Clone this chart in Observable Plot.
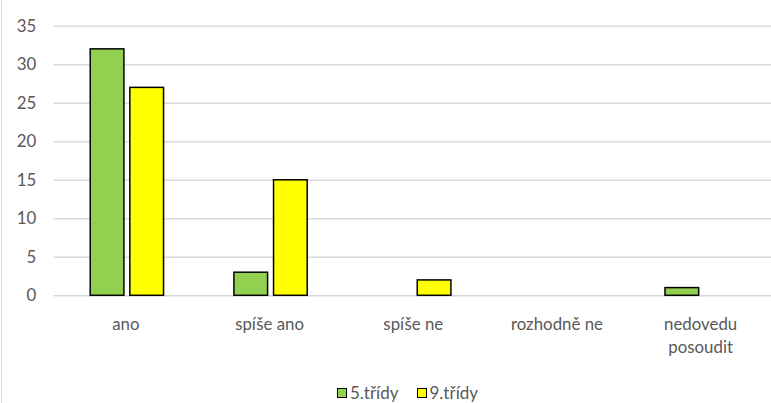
<!DOCTYPE html>
<html>
<head>
<meta charset="utf-8">
<script src="https://cdn.jsdelivr.net/npm/d3@7"></script>
<script src="https://cdn.jsdelivr.net/npm/@observablehq/plot@0.6"></script>
<style>
  html, body { margin: 0; padding: 0; background: #fff; }
  #wrap { width: 771px; height: 403px; position: relative; box-sizing: border-box; border-left: 1px solid #d9d9d9; margin-left: 1px; overflow: hidden; }
  #chart { position: absolute; left: 0; top: 0; }
  #legend { position: absolute; left: 0; width: 771px; top: 382px; display: flex; justify-content: center; gap: 18px; font: 17px Lato, sans-serif; color: #595959; padding-left: 40px; box-sizing: border-box; }
  .item { display: flex; align-items: center; gap: 3px; }
  .sw { width: 8px; height: 8px; border: 1.5px solid #000; display: inline-block; }
</style>
</head>
<body>
<div id="wrap"><div id="chart"></div><div id="legend"></div></div>
<script>
const categories = ["ano", "spíše ano", "spíše ne", "rozhodně ne", "nedovedu posoudit"];
const seriesNames = ["5.třídy", "9.třídy"];
const values5 = [32, 3, 0, 0, 1];
const values9 = [27, 15, 2, 0, 0];
const colors = ["#92d050", "#ffff00"];
const yTicks = [0, 5, 10, 15, 20, 25, 30, 35];

const rows5 = categories.map((c, i) => ({cat: c, value: values5[i]})).filter(d => d.value > 0);
const rows9 = categories.map((c, i) => ({cat: c, value: values9[i]})).filter(d => d.value > 0);

const labelMap = {"nedovedu posoudit": "nedovedu\nposoudit"};

const chart = Plot.plot({
  width: 777,
  height: 382,
  marginLeft: 52,
  marginRight: 0,
  marginTop: 26,
  marginBottom: 84,
  style: {fontFamily: "Lato, sans-serif", fontSize: "17px", color: "#595959", background: "transparent", overflow: "visible"},
  x: {domain: categories, padding: 0, label: null},
  y: {domain: [0, 35], label: null},
  marks: [
    Plot.gridY(yTicks, {stroke: "#d9d9d9", strokeOpacity: 1, strokeWidth: 1.5}),
    Plot.axisY(yTicks, {tickSize: 0, tickPadding: 18, label: null, fill: "#595959"}),
    Plot.axisX({tickSize: 0, tickPadding: 18, label: null, lineHeight: 1.35, fill: "#595959",
                tickFormat: d => labelMap[d] || d}),
    Plot.barY(rows5, {x: "cat", y: "value", fill: colors[0], stroke: "#000", strokeWidth: 1.5, insetLeft: 37, insetRight: 74}),
    Plot.barY(rows9, {x: "cat", y: "value", fill: colors[1], stroke: "#000", strokeWidth: 1.5, insetLeft: 77, insetRight: 34})
  ]
});
document.getElementById("chart").appendChild(chart);

const legend = document.getElementById("legend");
seriesNames.forEach((s, i) => {
  const it = document.createElement("span");
  it.className = "item";
  const sw = document.createElement("span");
  sw.className = "sw";
  sw.style.background = colors[i];
  it.appendChild(sw);
  it.appendChild(document.createTextNode(s));
  legend.appendChild(it);
});
</script>
</body>
</html>
